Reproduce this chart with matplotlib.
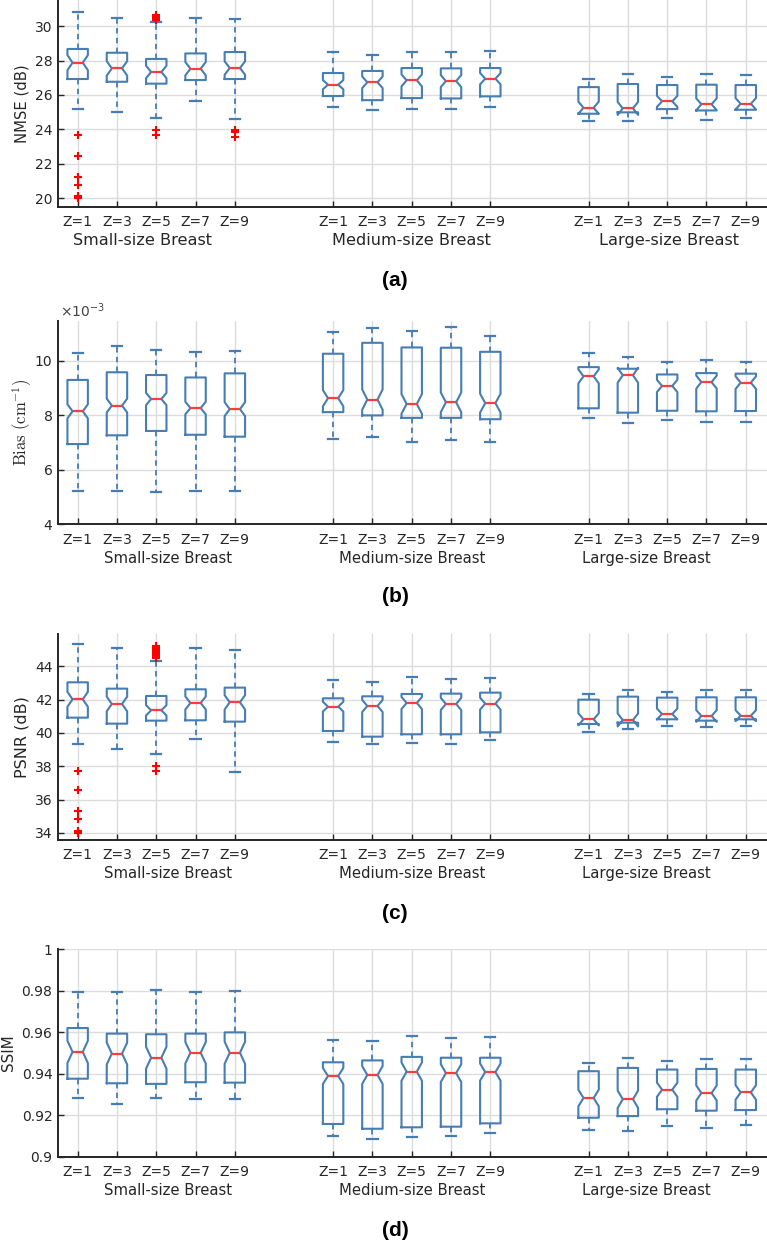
import matplotlib
matplotlib.use("Agg")
import matplotlib.pyplot as plt
import numpy as np
from matplotlib.ticker import FixedLocator, FuncFormatter

# ---------------- data ----------------
z_labels = ["Z=1", "Z=3", "Z=5", "Z=7", "Z=9"]
group_names = ["Small-size Breast", "Medium-size Breast", "Large-size Breast"]

# NMSE (dB)
nmse_whi = [30.85, 30.50, 30.27, 30.50, 30.43, 28.49, 28.35, 28.52, 28.49, 28.56, 26.95, 27.20, 27.07, 27.20, 27.16]
nmse_q3 = [28.68, 28.46, 28.10, 28.42, 28.50, 27.28, 27.40, 27.57, 27.55, 27.57, 26.46, 26.64, 26.58, 26.60, 26.58]
nmse_med = [27.88, 27.55, 27.34, 27.53, 27.57, 26.60, 26.74, 26.85, 26.81, 26.95, 25.26, 25.22, 25.63, 25.46, 25.49]
nmse_q1 = [26.93, 26.77, 26.66, 26.87, 26.93, 25.94, 25.70, 25.82, 25.80, 25.92, 24.91, 24.99, 25.18, 25.10, 25.14]
nmse_wlo = [25.20, 25.00, 24.66, 25.65, 24.60, 25.30, 25.10, 25.17, 25.20, 25.32, 24.48, 24.48, 24.66, 24.56, 24.66]
nmse_fliers = {0: [23.69, 22.45, 21.20, 20.74, 20.10, 20.02, 19.98],
               2: [30.35, 30.42, 30.48, 30.55, 30.62, 30.68, 23.96, 23.65],
               4: [23.98, 23.83, 23.58]}
# notch half-height as a fraction of the IQR (small, medium, large)
nmse_notch = [0.25, 0.20, 0.23]

# Bias (x 1e-3 cm^-1)
bias_whi = [10.26, 10.54, 10.37, 10.32, 10.35, 11.06, 11.18, 11.08, 11.22, 10.91, 10.28, 10.12, 9.96, 10.02, 9.96]
bias_q3 = [9.29, 9.57, 9.47, 9.38, 9.53, 10.25, 10.65, 10.48, 10.47, 10.32, 9.76, 9.70, 9.49, 9.54, 9.52]
bias_med = [8.14, 8.35, 8.59, 8.26, 8.22, 8.62, 8.57, 8.41, 8.47, 8.44, 9.42, 9.46, 9.07, 9.21, 9.19]
bias_q1 = [6.94, 7.26, 7.42, 7.28, 7.21, 8.11, 7.99, 7.90, 7.90, 7.85, 8.25, 8.09, 8.16, 8.14, 8.15]
bias_wlo = [5.21, 5.21, 5.17, 5.22, 5.22, 7.13, 7.19, 7.00, 7.08, 7.03, 7.91, 7.72, 7.83, 7.75, 7.75]
bias_fliers = {}
bias_notch = [0.11, 0.14, 0.17]

# PSNR (dB)
psnr_whi = [45.36, 45.08, 44.34, 45.08, 45.00, 43.18, 43.06, 43.34, 43.22, 43.28, 42.36, 42.60, 42.48, 42.58, 42.56]
psnr_q3 = [43.04, 42.66, 42.22, 42.62, 42.72, 42.08, 42.20, 42.34, 42.36, 42.42, 42.00, 42.18, 42.12, 42.14, 42.14]
psnr_med = [42.02, 41.74, 41.36, 41.80, 41.84, 41.58, 41.62, 41.80, 41.74, 41.76, 40.82, 40.78, 41.14, 41.02, 41.04]
psnr_q1 = [40.92, 40.56, 40.74, 40.76, 40.68, 40.12, 39.78, 39.92, 39.92, 40.04, 40.54, 40.62, 40.82, 40.74, 40.82]
psnr_wlo = [39.34, 39.04, 38.76, 39.66, 37.64, 39.46, 39.34, 39.42, 39.34, 39.56, 40.06, 40.26, 40.44, 40.38, 40.44]
psnr_fliers = {0: [37.70, 36.58, 35.32, 34.84, 34.14, 34.04, 34.00],
               2: [44.50, 44.60, 44.70, 44.80, 44.90, 45.00, 45.10, 45.20, 38.04, 37.70]}
psnr_notch = [0.21, 0.15, 0.25]

# SSIM
ssim_whi = [0.9796, 0.9796, 0.9803, 0.9796, 0.9798, 0.9563, 0.9560, 0.9583, 0.9573, 0.9576, 0.9453, 0.9477, 0.9462, 0.9474, 0.9470]
ssim_q3 = [0.9621, 0.9594, 0.9591, 0.9594, 0.9600, 0.9456, 0.9465, 0.9482, 0.9478, 0.9478, 0.9413, 0.9429, 0.9421, 0.9424, 0.9421]
ssim_med = [0.9506, 0.9498, 0.9478, 0.9502, 0.9502, 0.9390, 0.9395, 0.9411, 0.9404, 0.9409, 0.9284, 0.9278, 0.9324, 0.9308, 0.9311]
ssim_q1 = [0.9377, 0.9355, 0.9352, 0.9360, 0.9358, 0.9159, 0.9136, 0.9143, 0.9146, 0.9162, 0.9189, 0.9197, 0.9230, 0.9223, 0.9226]
ssim_wlo = [0.9284, 0.9255, 0.9284, 0.9278, 0.9281, 0.9103, 0.9088, 0.9098, 0.9103, 0.9114, 0.9128, 0.9125, 0.9149, 0.9140, 0.9154]
ssim_fliers = {}
ssim_notch = [0.22, 0.13, 0.18]

# ---------------- style ----------------
BLUE = "#467db4"
MED_RED = "#ff3b3b"
FLIER_RED = "#ff0000"
DARK = "#262626"
GRID = "#dcdcdc"

plt.rcParams["font.family"] = ["DejaVu Sans"]

W, H = 767, 1243
fig = plt.figure(figsize=(W / 100, H / 100), dpi=100)

positions = [1, 2, 3, 4, 5, 7.5, 8.5, 9.5, 10.5, 11.5, 14, 15, 16, 17, 18]
group_centers_a = [2.66, 9.49, 16.05]
group_centers_bcd = [3.30, 9.50, 15.46]

# axes rectangles in pixels: (top, bottom)
rects_px = [(0, 207), (320.7, 524.3), (634.3, 840), (949.3, 1157)]
left_px, right_px = 58, 767


def make_stats(whi, q3, med, q1, wlo, fliers, notch):
    out = []
    for i in range(len(med)):
        half = notch[i // 5] * (q3[i] - q1[i])
        out.append(dict(med=med[i], q1=q1[i], q3=q3[i], whislo=wlo[i], whishi=whi[i],
                        cilo=med[i] - half, cihi=med[i] + half,
                        fliers=np.array(fliers.get(i, []))))
    return out


panels = [
    dict(stats=make_stats(nmse_whi, nmse_q3, nmse_med, nmse_q1, nmse_wlo, nmse_fliers, nmse_notch),
         ylabel="NMSE (dB)", ylsize=10.6, ylim=(19.48, 31.53), yticks=[20, 22, 24, 26, 28, 30],
         fmt="%g", tag="(a)", tag_y=280, centers=group_centers_a, gsize=11.6, ylab_x=21.7, math=False),
    dict(stats=make_stats(bias_whi, bias_q3, bias_med, bias_q1, bias_wlo, bias_fliers, bias_notch),
         ylabel=r"$\mathrm{Bias\ (cm^{-1})}$", ylsize=12, ylim=(4.0, 11.46), yticks=[4, 6, 8, 10],
         fmt="%g", tag="(b)", tag_y=596.7, centers=group_centers_bcd, gsize=10.7, ylab_x=21.7, math=True),
    dict(stats=make_stats(psnr_whi, psnr_q3, psnr_med, psnr_q1, psnr_wlo, psnr_fliers, psnr_notch),
         ylabel="PSNR (dB)", ylsize=11.5, ylim=(33.58, 45.92), yticks=[34, 36, 38, 40, 42, 44],
         fmt="%g", tag="(c)", tag_y=913.3, centers=group_centers_bcd, gsize=10.7, ylab_x=21.7, math=False),
    dict(stats=make_stats(ssim_whi, ssim_q3, ssim_med, ssim_q1, ssim_wlo, ssim_fliers, ssim_notch),
         ylabel="SSIM", ylsize=10.9, ylim=(0.9, 1.0), yticks=[0.9, 0.92, 0.94, 0.96, 0.98, 1.0],
         fmt="%g", tag="(d)", tag_y=1230, centers=group_centers_bcd, gsize=10.7, ylab_x=8.3, math=False),
]

for p, (top, bot) in zip(panels, rects_px):
    ax = fig.add_axes([left_px / W, 1 - bot / H, (right_px - left_px) / W, (bot - top) / H])
    ax.bxp(p["stats"], positions=positions, widths=0.52, shownotches=True, capwidths=0.26,
           manage_ticks=False, patch_artist=False,
           boxprops=dict(color=BLUE, linewidth=1.5),
           whiskerprops=dict(color=BLUE, linewidth=1.3, linestyle=(0, (3.0, 2.4))),
           capprops=dict(color=BLUE, linewidth=1.6),
           medianprops=dict(color=MED_RED, linewidth=1.6),
           flierprops=dict(marker="+", markeredgecolor=FLIER_RED, markersize=5.5,
                           markeredgewidth=1.5, linestyle="none"))
    ax.set_xlim(0.5, 18.54)
    ax.set_ylim(*p["ylim"])
    ax.xaxis.set_major_locator(FixedLocator(positions))
    ax.set_xticklabels(z_labels * 3)
    ax.yaxis.set_major_locator(FixedLocator(p["yticks"]))
    ax.yaxis.set_major_formatter(FuncFormatter(lambda v, pos, f=p["fmt"]: f % v))
    ax.grid(True, color=GRID, linewidth=1.0)
    ax.set_axisbelow(True)
    for s in ("top", "right"):
        ax.spines[s].set_visible(False)
    for s in ("left", "bottom"):
        ax.spines[s].set_color(DARK)
        ax.spines[s].set_linewidth(1.4)
    ax.tick_params(direction="in", length=4.5, width=1.0, color=DARK, labelcolor=DARK,
                   labelsize=10)
    ax.tick_params(axis="x", pad=6)
    ax.tick_params(axis="y", pad=4)
    if p["math"]:
        ax.set_ylabel(p["ylabel"], fontsize=p["ylsize"], color=DARK, math_fontfamily="cm")
    else:
        ax.set_ylabel(p["ylabel"], fontsize=p["ylsize"], color=DARK)
    ax.yaxis.label.set_verticalalignment("center")
    ax.yaxis.set_label_coords((p["ylab_x"] - left_px) / (right_px - left_px), 0.5)
    for c, g in zip(p["centers"], group_names):
        ax.annotate(g, xy=(c, 0), xycoords=("data", "axes fraction"),
                    xytext=(0, -24.3), textcoords="offset points",
                    ha="center", va="center", fontsize=p["gsize"], color=DARK)
    if p["math"]:
        ax.text(0.003, 1.005, r"$\times 10^{-3}$", transform=ax.transAxes,
                ha="left", va="bottom", fontsize=10, color="#444444")
    fig.text(395 / W, 1 - p["tag_y"] / H, p["tag"], ha="center", va="center",
             fontsize=15, fontweight="bold", family="Liberation Sans", color="black")

fig.savefig("out.png", dpi=100)
